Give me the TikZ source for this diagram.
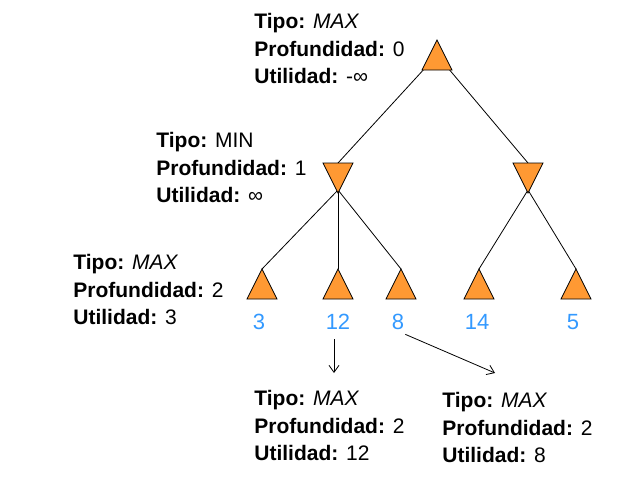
\documentclass[tikz,border=0pt]{standalone}
\usepackage{fontspec}
\setmainfont{Liberation Sans}
\usetikzlibrary{arrows.meta,backgrounds}
\definecolor{triorange}{RGB}{255,153,51}
\definecolor{leafblue}{RGB}{51,153,255}

\begin{document}
\begin{tikzpicture}[
        x=1pt, y=-1pt,
        every path/.style={line width=0.8pt},
        info/.style={anchor=north west, align=left, inner sep=0pt, font=\fontsize{21}{27.5}\selectfont},
        leafval/.style={text=leafblue, inner sep=1pt, font=\fontsize{22}{26}\selectfont},
        arr/.style={-{Straight Barb[length=7pt,width=10pt]}},
        maxtri/.pic={
            \draw[fill=triorange] (-15,15) -- (15,15) -- (0,-15) -- cycle;
            \coordinate (-apex) at (0,-15);
            \coordinate (-c) at (0,0);
        },
        mintri/.pic={
            \draw[fill=triorange] (-15,-15) -- (15,-15) -- (0,15) -- cycle;
            \coordinate (-apex) at (0,12);
            \coordinate (-top) at (0,-15);
        }
    ]
        \useasboundingbox (0,0) rectangle (627,485);

        % the tree
        \pic (root) at (437,55) {maxtri};
        \pic (minL) at (338,178) {mintri};
        \pic (minR) at (528,178) {mintri};
        \pic (l1) at (262,284) {maxtri};
        \pic (l2) at (338,284) {maxtri};
        \pic (l3) at (401,284) {maxtri};
        \pic (l4) at (479,284) {maxtri};
        \pic (l5) at (576,284) {maxtri};

        \begin{scope}[on background layer]
            \draw (root-c) -- (minL-top) (root-c) -- (minR-top);
            \foreach \l in {l1,l2,l3}
                \draw (minL-apex) -- (\l-apex);
            \foreach \l in {l4,l5}
                \draw (minR-apex) -- (\l-apex);
        \end{scope}

        % leaf values
        \node[leafval] (v1) at (259,322) {3};
        \node[leafval] (v2) at (338,322) {12};
        \node[leafval] (v3) at (398,322) {8};
        \node[leafval] (v4) at (477,322) {14};
        \node[leafval] (v5) at (573,322) {5};

        % node info
        \node[info] (iroot) at (254,13) {\textbf{Tipo:} \textit{MAX}\\\textbf{Profundidad:} 0\\\textbf{Utilidad:} -∞};
        \node[info] (iminL) at (156,132) {\textbf{Tipo:} MIN\\\textbf{Profundidad:} 1\\\textbf{Utilidad:} ∞};
        \node[info] (il1) at (73,254) {\textbf{Tipo:} \textit{MAX}\\\textbf{Profundidad:} 2\\\textbf{Utilidad:} 3};
        \node[info] (il2) at (254,390) {\textbf{Tipo:} \textit{MAX}\\\textbf{Profundidad:} 2\\\textbf{Utilidad:} 12};
        \node[info] (il3) at (442,392) {\textbf{Tipo:} \textit{MAX}\\\textbf{Profundidad:} 2\\\textbf{Utilidad:} 8};

        \coordinate (il2-in) at (334,373);
        \coordinate (il3-in) at (495,373);
        \draw[arr, shorten <=8pt] (v2.south -| il2-in) -- (il2-in);
        \draw[arr, shorten <=8pt] (v3.south) -- (il3-in);
    \end{tikzpicture}
\end{document}
